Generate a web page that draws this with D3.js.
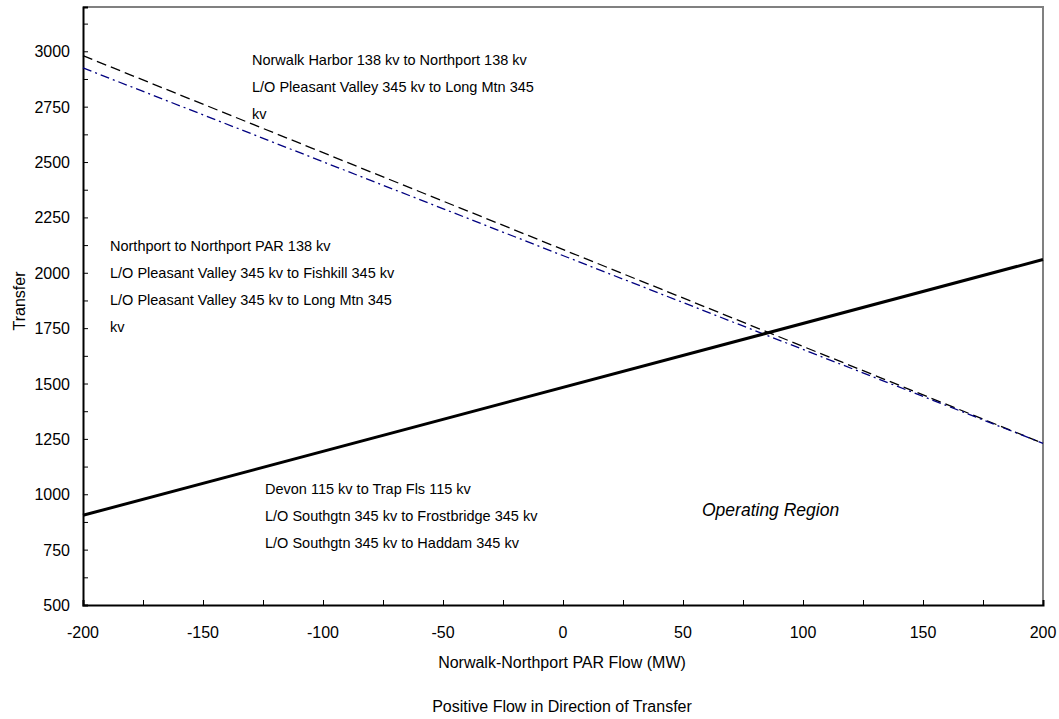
<!DOCTYPE html>
<html>
<head>
<meta charset="utf-8">
<script src="https://cdn.jsdelivr.net/npm/d3@7"></script>
<style>
  body { margin: 0; background: #fff; }
  text { font-family: Arial, "Liberation Sans", sans-serif; fill: #000; }
</style>
</head>
<body>
<script>
'use strict'

// values
var flow = [-200, 200]
var devon = [905, 2060]          // solid
var norwalk = [2980, 1230]       // dashed
var northport = [2925, 1230]     // dash-dot, blue
var xTicks = d3.range(-200, 201, 50)
var yTicks = d3.range(500, 3001, 250)

var W = 1059, H = 719
var m = {l: 83, r: 16, t: 7, b: 114}
var svg = d3.select('body').append('svg').attr('width', W).attr('height', H)

var x = d3.scaleLinear().domain([-200, 200]).range([m.l, W - m.r])
  , y = d3.scaleLinear().domain([500, 3200]).range([H - m.b, m.t])

// frame (top/right grey)
svg.append('path')
  .attr('d', 'M' + x(-200) + ',' + y(3200) + 'H' + x(200) + 'V' + y(500))
  .attr('fill', 'none').attr('stroke', '#808080').attr('stroke-width', 2)

var xa = svg.append('g').attr('transform', 'translate(0,' + y(500) + ')')
  .call(d3.axisBottom(x).tickValues(d3.range(-200, 201, 25)).tickSize(-5).tickFormat(''))
xa.select('.domain').attr('stroke-width', 2)
svg.append('g').selectAll('text').data(xTicks).enter().append('text')
  .attr('x', function(d){ return x(d) }).attr('y', y(500) + 33)
  .attr('text-anchor', 'middle').style('font-size', '16px')
  .text(function(d){ return d })

var ya = svg.append('g').attr('transform', 'translate(' + x(-200) + ',0)')
  .call(d3.axisLeft(y).tickValues(d3.range(500, 3200, 125)).tickSize(-5).tickFormat(''))
ya.select('.domain').attr('stroke-width', 2)
svg.append('g').selectAll('text').data(yTicks).enter().append('text')
  .attr('x', x(-200) - 13).attr('y', function(d){ return y(d) + 6 })
  .attr('text-anchor', 'end').style('font-size', '16px')
  .text(function(d){ return d })

var line = d3.line().x(function(d){ return x(d[0]) }).y(function(d){ return y(d[1]) })
function series(v){ return flow.map(function(f, i){ return [f, v[i]] }) }

svg.append('path').attr('d', line(series(norwalk))).attr('fill', 'none')
  .attr('stroke', '#000').attr('stroke-width', 1.3).attr('stroke-dasharray', '10,5')
svg.append('path').attr('d', line(series(northport))).attr('fill', 'none')
  .attr('stroke', '#000080').attr('stroke-width', 1.3).attr('stroke-dasharray', '9,4,2,4')
svg.append('path').attr('d', line(series(devon))).attr('fill', 'none')
  .attr('stroke', '#000').attr('stroke-width', 3)

function note(px, py, lines, italic){
  var t = svg.append('text').attr('x', px).attr('y', py).style('font-size', '14.5px')
  if (italic) t.style('font-style', 'italic').style('font-size', '17.5px')
  lines.forEach(function(s, i){
    t.append('tspan').attr('x', px).attr('dy', i ? 27 : 0).text(s)
  })
}
note(252, 65, ['Norwalk Harbor 138 kv to Northport 138 kv',
  'L/O Pleasant Valley 345 kv to Long Mtn 345', 'kv'])
note(110, 251, ['Northport to Northport PAR 138 kv',
  'L/O Pleasant Valley 345 kv to Fishkill 345 kv',
  'L/O Pleasant Valley 345 kv to Long Mtn 345', 'kv'])
note(265, 494, ['Devon 115 kv to Trap Fls 115 kv',
  'L/O Southgtn 345 kv to Frostbridge 345 kv',
  'L/O Southgtn 345 kv to Haddam 345 kv'])
note(702, 516, ['Operating Region'], true)

svg.append('text').attr('transform', 'translate(25,301) rotate(-90)')
  .attr('text-anchor', 'middle').style('font-size', '16px').text('Transfer')
svg.append('text').attr('x', 562).attr('y', 668).attr('text-anchor', 'middle')
  .style('font-size', '16px').text('Norwalk-Northport PAR Flow (MW)')
svg.append('text').attr('x', 562).attr('y', 712).attr('text-anchor', 'middle')
  .style('font-size', '16px').text('Positive Flow in Direction of Transfer')
</script>
</body>
</html>
